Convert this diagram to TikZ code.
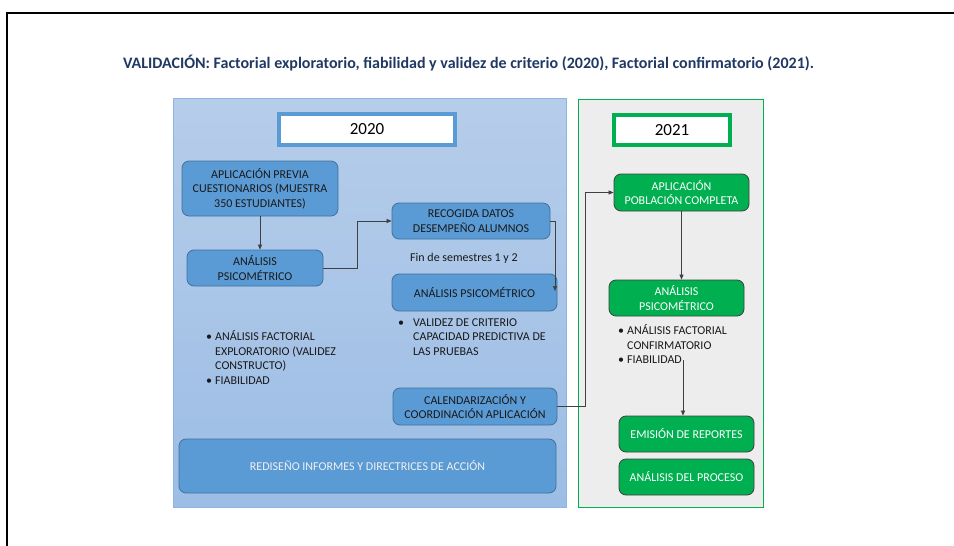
\documentclass[tikz,border=0pt]{standalone}
\usepackage{fontspec}
\setmainfont{Carlito}
\usetikzlibrary{arrows.meta}
\definecolor{titlenavy}{HTML}{1F3864}
\definecolor{paneltop}{HTML}{B6CDEA}
\definecolor{panelbot}{HTML}{9CBDE5}
\definecolor{panelline}{HTML}{8DB4E2}
\definecolor{yearblue}{HTML}{5B9BD5}
\definecolor{boxblue}{HTML}{5B9BD5}
\definecolor{boxblueline}{HTML}{41719C}
\definecolor{greenfill}{HTML}{00B050}
\definecolor{greenline}{HTML}{3F3F3F}
\definecolor{greypanel}{HTML}{EDEDED}
\definecolor{arrowgrey}{HTML}{404040}
\newcommand{\itm}[1]{\makebox[#1][l]{\textbullet}}

\begin{document}
\begin{tikzpicture}[x=1pt,y=-1pt,
  bluebox/.style={draw=boxblueline, fill=boxblue, rounded corners=7pt, line width=0.8pt, align=center, inner sep=0pt, text=black!90, font=\fontsize{12}{14.5}\selectfont},
  greenbox/.style={draw=greenline, fill=greenfill, rounded corners=7pt, line width=0.8pt, align=center, inner sep=0pt, text=white, font=\fontsize{12}{14.5}\selectfont},
  yearbox/.style={fill=white, line width=4pt, inner sep=0pt, font=\fontsize{17}{20}\selectfont},
  bullets/.style={anchor=north west, align=left, inner sep=0pt, text=black!90, font=\fontsize{12}{14.5}\selectfont},
  conn/.style={draw=arrowgrey, line width=0.7pt, -{Triangle[length=5pt,width=4pt]}}]
\useasboundingbox (0,0) rectangle (954,546);
\draw[line width=2.5pt] (7,550) -- (7,13) -- (960,13);
\node[font=\fontsize{16}{18}\selectfont\bfseries, text=titlenavy] (titulo) at (468.5,63) {VALIDACIÓN: Factorial exploratorio, fiabilidad y validez de criterio (2020), Factorial confirmatorio (2021).};
\draw[draw=panelline, line width=1pt, top color=paneltop, bottom color=panelbot] (173,98) rectangle (566,507);
\draw[draw=greenfill, line width=1pt, fill=greypanel] (578,99) rectangle (763,507);
\node[yearbox, draw=yearblue, minimum width=176pt, minimum height=31pt] (anio1) at (367,129.5) {2020};
\node[yearbox, draw=greenfill, minimum width=116pt, minimum height=30pt] (anio2) at (672,130) {2021};
\node[bluebox, minimum width=156pt, minimum height=55pt] (previa) at (260,188.5) {APLICACIÓN PREVIA\\CUESTIONARIOS (MUESTRA\\350 ESTUDIANTES)};
\node[bluebox, minimum width=136pt, minimum height=36pt] (psicoa) at (255,268) {ANÁLISIS\\PSICOMÉTRICO};
\node[bluebox, minimum width=158pt, minimum height=36pt] (recogida) at (471,221) {RECOGIDA DATOS\\DESEMPEÑO ALUMNOS};
\node[anchor=west, inner sep=0pt, font=\fontsize{12}{14.5}\selectfont, text=black!90] (fin) at (410,258) {Fin de semestres 1 y 2};
\node[bluebox, minimum width=165pt, minimum height=37pt] (psicob) at (474.5,292.5) {ANÁLISIS PSICOMÉTRICO};
\node[bullets] (listaa) at (206,330.5) {\itm{9pt}ANÁLISIS FACTORIAL\\\hspace{9pt}EXPLORATORIO (VALIDEZ\\\hspace{9pt}CONSTRUCTO)\\\itm{9pt}FIABILIDAD};
\node[bullets] (listab) at (398,318.5) {\itm{15pt}VALIDEZ DE CRITERIO\\\hspace{15pt}CAPACIDAD PREDICTIVA DE\\\hspace{15pt}LAS PRUEBAS};
\node[bluebox, minimum width=164pt, minimum height=37pt] (calend) at (475,406.5) {CALENDARIZACIÓN Y\\COORDINACIÓN APLICACIÓN};
\node[bluebox, minimum width=377pt, minimum height=54pt, text=white!94!black] (rediseno) at (367.5,466) {REDISEÑO INFORMES Y DIRECTRICES DE ACCIÓN};
\node[greenbox, minimum width=135pt, minimum height=37pt] (poblacion) at (681.5,192.5) {APLICACIÓN\\POBLACIÓN COMPLETA};
\node[greenbox, minimum width=135pt, minimum height=36pt] (psicoc) at (676.5,298) {ANÁLISIS\\PSICOMÉTRICO};
\node[bullets] (listac) at (618,324.5) {\itm{9pt}ANÁLISIS FACTORIAL\\\hspace{9pt}CONFIRMATORIO\\\itm{9pt}FIABILIDAD};
\node[greenbox, minimum width=135pt, minimum height=36pt] (emision) at (686.5,434) {EMISIÓN DE REPORTES};
\node[greenbox, minimum width=135pt, minimum height=36pt] (proceso) at (686.5,477) {ANÁLISIS DEL PROCESO};
\coordinate (psicobin) at (555,291);
\coordinate (fiabfin) at (683,360);
\draw[conn] (previa.south) -- (previa.south |- psicoa.north);
\draw[conn] (psicoa.east) -- ++(34,0) |- (recogida.west);
\draw[conn] (recogida.east) -| (psicobin);
\draw[conn] (calend.east) -- ++(28,0) |- (poblacion.west);
\draw[conn] (poblacion.south) -- (poblacion.south |- psicoc.north);
\draw[conn] (fiabfin) -- (fiabfin |- emision.north);
\end{tikzpicture}
\end{document}
